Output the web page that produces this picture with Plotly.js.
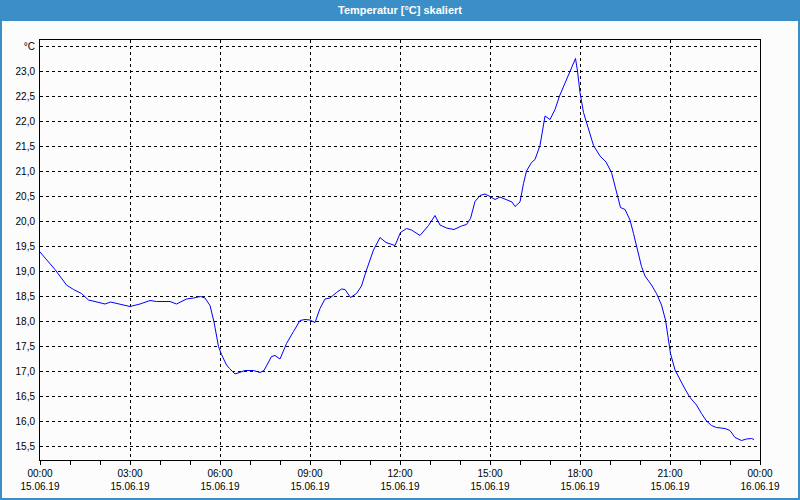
<!DOCTYPE html>
<html>
<head>
<meta charset="utf-8">
<script src="https://cdn.plot.ly/plotly-3.0.1.min.js"></script>
<style>
  html, body { margin: 0; padding: 0; background: #ffffff; }
  #chart { width: 800px; height: 500px; }
</style>
</head>
<body>
<div id="chart"></div>
<script>
// ---- data ----
const chartTitle = "Temperatur [°C] skaliert";
const day = "2019-06-15";
const times = [
  "00:00","00:30","00:53","01:07","01:23","01:37","01:50","02:10","02:21","02:33",
  "02:47","03:00","03:20","03:40","03:53","04:20","04:33","04:53","05:07","05:21",
  "05:30","05:40","05:48","05:57","06:03","06:13","06:19","06:30","06:50","07:07",
  "07:20","07:28","07:43","07:50","08:00","08:13","08:27","08:40","08:50","09:00",
  "09:10","09:20","09:30","09:40","09:53","10:03","10:10","10:21","10:33","10:43",
  "10:53","11:07","11:20","11:32","11:50","12:01","12:13","12:23","12:40","12:57",
  "13:10","13:20","13:33","13:48","14:03","14:13","14:21","14:30","14:40","14:50",
  "15:00","15:10","15:20","15:36","15:44","15:50","16:00","16:07","16:13","16:23",
  "16:30","16:40","16:50","17:00","17:10","17:19","17:30","17:40","17:51","17:55",
  "18:00","18:07","18:17","18:27","18:40","18:52","19:03","19:17","19:21","19:30",
  "19:40","19:47","19:57","20:03","20:10","20:23","20:33","20:43","20:51","20:57",
  "21:01","21:10","21:20","21:30","21:40","21:53","22:03","22:13","22:23","22:33",
  "22:50","23:00","23:10","23:23","23:33","23:43","23:48"
];
const temperature = [
  19.38,19.03,18.72,18.63,18.55,18.42,18.39,18.34,18.38,18.35,
  18.31,18.29,18.34,18.41,18.39,18.39,18.34,18.44,18.46,18.49,
  18.46,18.31,17.98,17.49,17.33,17.12,17.05,16.94,17.01,17.01,
  16.97,17.01,17.29,17.31,17.24,17.55,17.79,18.01,18.03,18.02,
  17.97,18.25,18.44,18.46,18.57,18.64,18.63,18.47,18.55,18.70,
  19.02,19.42,19.67,19.57,19.51,19.77,19.85,19.82,19.71,19.91,
  20.11,19.92,19.86,19.83,19.90,19.93,20.05,20.39,20.51,20.54,
  20.49,20.43,20.48,20.42,20.38,20.29,20.38,20.75,21.00,21.17,
  21.23,21.51,22.10,22.03,22.23,22.50,22.77,23.00,23.25,23.00,
  22.57,22.17,21.83,21.51,21.30,21.18,20.97,20.43,20.27,20.23,
  20.02,19.75,19.35,19.09,18.90,18.72,18.55,18.32,18.02,17.62,
  17.35,17.02,16.82,16.64,16.47,16.32,16.15,16.00,15.91,15.87,
  15.85,15.81,15.67,15.61,15.64,15.65,15.63
];
const yTickVals = [15.5,16.0,16.5,17.0,17.5,18.0,18.5,19.0,19.5,20.0,20.5,21.0,21.5,22.0,22.5,23.0,23.5];
const yTickText = ["15,5","16,0","16,5","17,0","17,5","18,0","18,5","19,0","19,5","20,0","20,5","21,0","21,5","22,0","22,5","23,0","°C"];
const xRange = ["2019-06-15 00:00","2019-06-16 00:00"];
const yRange = [15.22, 23.62];

// ---- layout helpers ----
const W = 800, H = 500, M = {l: 40, r: 40, t: 40, b: 40};
const PW = W - M.l - M.r, PH = H - M.t - M.b;
const px = x => (x - M.l) / PW;            // pixel x -> paper x
const py = y => (H - M.b - y) / PH;        // pixel y -> paper y
const frameBlue = "#3c8fc6";
const fontFam = "Liberation Sans, Arial, sans-serif";

const trace = {
  x: times.map(t => day + " " + t),
  y: temperature,
  type: "scatter",
  mode: "lines",
  line: {color: "#0000ff", width: 1},
  hoverinfo: "skip"
};

const layout = {
  width: W, height: H,
  margin: {l: M.l, r: M.r, t: M.t, b: M.b, pad: 0},
  paper_bgcolor: "#fbfcfb",
  plot_bgcolor: "#fbfcfb",
  showlegend: false,
  separators: ",.",
  title: {
    text: chartTitle,
    x: 0.5, xanchor: "center", xref: "container",
    y: 1 - 10.5 / H, yanchor: "middle", yref: "container",
    font: {family: fontFam, size: 11, color: "#ffffff", weight: "bold"}
  },
  xaxis: {
    type: "date",
    range: xRange,
    tick0: "2019-06-15 00:00",
    dtick: 3 * 3600000,
    tickformat: "%H:%M<br>%d.%m.%y",
    ticks: "outside", ticklen: 4, tickcolor: "#000000", tickwidth: 1,
    minor: {dtick: 3600000, ticks: "outside", ticklen: 4, tickcolor: "#000000", showgrid: false},
    showgrid: true, gridcolor: "#000000", gridwidth: 1, griddash: "3px,3px",
    showline: true, linecolor: "#000000", linewidth: 1, mirror: true,
    zeroline: false,
    tickfont: {family: fontFam, size: 10, color: "#000000"},
    fixedrange: true
  },
  yaxis: {
    range: yRange,
    tickvals: yTickVals,
    ticktext: yTickText,
    ticks: "",
    showgrid: true, gridcolor: "#000000", gridwidth: 1, griddash: "3px,3px",
    showline: true, linecolor: "#000000", linewidth: 1, mirror: true,
    zeroline: false,
    ticklabelstandoff: 2,
    tickfont: {family: fontFam, size: 10, color: "#000000"},
    fixedrange: true
  },
  shapes: [
    // title bar
    {type: "rect", xref: "paper", yref: "paper", layer: "below",
     x0: px(0), x1: px(W), y0: py(21), y1: py(0),
     fillcolor: frameBlue, line: {width: 0}},
    // window frame
    {type: "rect", xref: "paper", yref: "paper", layer: "below",
     x0: px(1), x1: px(W - 1), y0: py(H - 1), y1: py(1),
     fillcolor: "rgba(0,0,0,0)", line: {color: frameBlue, width: 2}}
  ]
};

Plotly.newPlot("chart", [trace], layout, {displayModeBar: false, staticPlot: true});
</script>
</body>
</html>
